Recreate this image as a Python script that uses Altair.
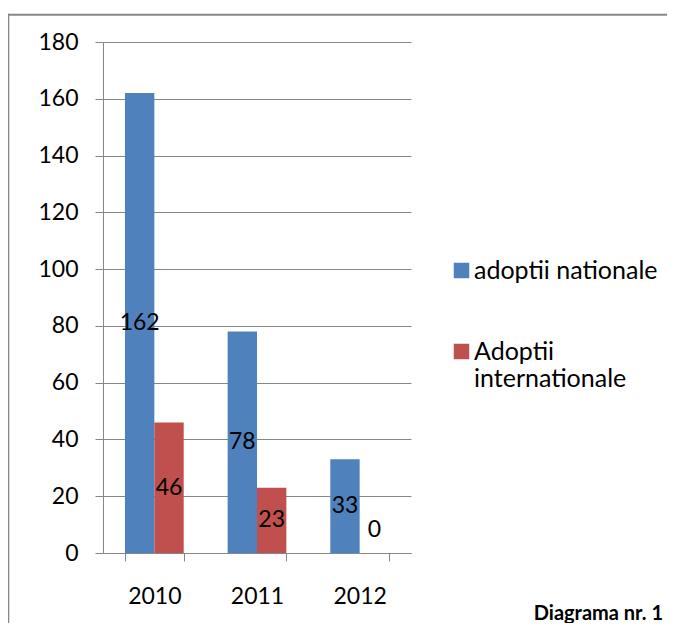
import altair as alt
import pandas as pd

years = ["2010", "2011", "2012"]
series = ["adoptii nationale", "Adoptii internationale"]
nationale = [162, 78, 33]
internationale = [46, 23, 0]
colors = ["#4F81BD", "#C0504D"]
caption = ["Diagrama nr. 1"]

rows = []
for yr, a, b in zip(years, nationale, internationale):
    rows.append({"an": yr, "serie": series[0], "v": a})
    rows.append({"an": yr, "serie": series[1], "v": b})
df = pd.DataFrame(rows)

FONT = "Lato"
GRAY = "#878787"
W, H = 308, 511

x_enc = alt.X(
    "an:N",
    scale=alt.Scale(domain=years, paddingInner=0.428, paddingOuter=0.214),
    axis=alt.Axis(
        title=None, labelAngle=0, tickBand="extent", tickSize=8, labelPadding=24,
        labelFontSize=23, labelFont=FONT, labelColor="black",
        domainColor=GRAY, tickColor=GRAY, grid=False,
    ),
)
xoff = alt.XOffset("serie:N", scale=alt.Scale(domain=series, paddingInner=0, paddingOuter=0))
y_scale = alt.Scale(domain=[0, 180], nice=False)

bars = alt.Chart(df).mark_bar(strokeWidth=0).encode(
    x=x_enc,
    xOffset=xoff,
    y=alt.Y(
        "v:Q", scale=y_scale,
        axis=alt.Axis(
            values=list(range(0, 181, 20)), title=None, tickSize=8, labelPadding=17,
            labelFontSize=23, labelFont=FONT, labelColor="black",
            domainColor=GRAY, tickColor=GRAY, gridColor=GRAY, gridOpacity=1,
        ),
    ),
    color=alt.Color(
        "serie:N",
        scale=alt.Scale(domain=series, range=colors),
        legend=alt.Legend(
            title=None, orient="none", legendX=346, legendY=216,
            symbolType="square", symbolSize=240, symbolStrokeWidth=0,
            labelFontSize=25, labelFont=FONT, labelColor="black", labelLimit=300,
            labelOffset=0, rowPadding=55, padding=0,
            labelExpr="datum.label == 'Adoptii internationale' ? ['Adoptii', 'internationale'] : datum.label",
        ),
    ),
)

labels = alt.Chart(df).transform_calculate(
    pos="datum.v > 0 ? datum.v / 2 : 8"
).mark_text(font=FONT, fontSize=23, color="black", baseline="middle").encode(
    x=alt.X("an:N"),
    xOffset=alt.XOffset("serie:N"),
    y=alt.Y("pos:Q", scale=y_scale),
    text=alt.Text("v:Q"),
)

cap = alt.Chart(pd.DataFrame({"t": caption})).mark_text(
    font=FONT, fontSize=20, fontWeight="bold", color="black", align="right", baseline="middle"
).encode(x=alt.value(560), y=alt.value(572), text="t:N")

frame_src = pd.DataFrame({"t": caption})
border_top = alt.Chart(frame_src).mark_rule(color=GRAY, strokeWidth=2).encode(
    x=alt.value(-95.7), x2=alt.value(700), y=alt.value(-27.3)
)
border_left = alt.Chart(frame_src).mark_rule(color=GRAY, strokeWidth=2).encode(
    x=alt.value(-94.7), y=alt.value(-28.3), y2=alt.value(800)
)

chart = alt.layer(border_top, border_left, bars, labels, cap).properties(
    width=W, height=H,
    padding={"left": 95, "top": 34, "right": 256, "bottom": 70},
    autosize=alt.AutoSizeParams(type="none"),
).configure_view(stroke=None)

chart.save("out.html", embed_options={"renderer": "svg", "actions": False})
